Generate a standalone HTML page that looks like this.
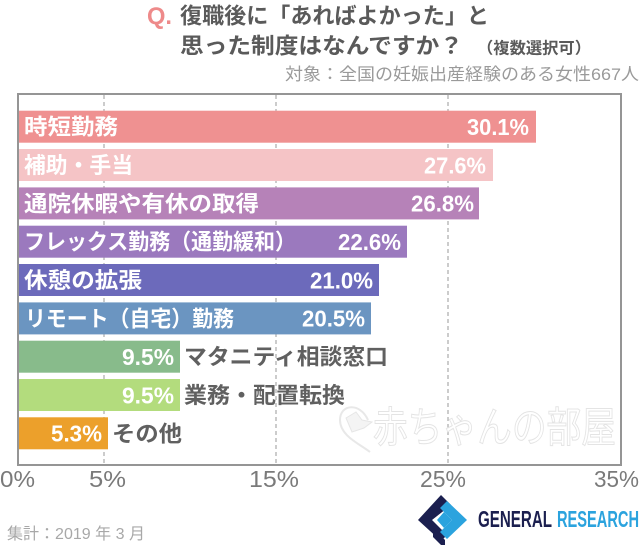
<!DOCTYPE html>
<html><head><meta charset="utf-8"><style>
html,body{margin:0;padding:0;background:#fff;}
svg{display:block;}
.cj{font-family:"Liberation Sans","Noto Sans CJK JP",sans-serif;}
.lb{font-family:"Noto Sans CJK JP","Liberation Sans",sans-serif;font-weight:bold;font-size:22px;}
.pc{font-family:"Liberation Sans",sans-serif;font-weight:bold;font-size:23px;fill:#fff;}
.ax{font-family:"Liberation Sans",sans-serif;font-size:23px;fill:#7a7a7a;}
</style></head><body>
<svg width="640" height="546" viewBox="0 0 640 546" xmlns="http://www.w3.org/2000/svg">
<rect width="640" height="546" fill="#fff"/>
<!-- Title -->
<text x="147" y="24" font-family="Liberation Sans,sans-serif" font-weight="bold" font-size="24" fill="#ee8a8a" textLength="25" lengthAdjust="spacingAndGlyphs">Q.</text>
<text x="180" y="23.5" class="cj" font-weight="bold" font-size="22" fill="#5a5a5a" textLength="309" lengthAdjust="spacingAndGlyphs">復職後に「あればよかった」と</text>
<text x="180" y="53.5" class="cj" font-weight="bold" font-size="22" fill="#5a5a5a" textLength="283" lengthAdjust="spacingAndGlyphs">思った制度はなんですか？</text>
<text x="477" y="53.5" class="cj" font-weight="bold" font-size="16" fill="#5a5a5a" textLength="114" lengthAdjust="spacingAndGlyphs">（複数選択可）</text>
<text x="285" y="80" class="cj" font-size="17" fill="#9a9a9a" textLength="354" lengthAdjust="spacingAndGlyphs">対象：全国の妊娠出産経験のある女性667人</text>

<!-- gridlines -->
<g stroke="#9a9a9a" stroke-width="1" stroke-dasharray="4,3">
<line x1="104" y1="95" x2="104" y2="464"/>
<line x1="276" y1="95" x2="276" y2="464"/>
<line x1="448" y1="95" x2="448" y2="464"/>
</g>

<!-- watermark -->
<g>
<path d="M368 420 C 360 402, 340 404, 340 420 C 340 436, 360 444, 370 452" fill="none" stroke="#e8e8e8" stroke-width="2"/>
<path d="M346 418 l10 -6 l6 8 l10 2 l-8 6 l-12 4 z" fill="#f4f4f4" stroke="#e6e6e6" stroke-width="1"/>
<text x="373" y="442" class="cj" font-size="42" fill="#fff" stroke="#e4e4e4" stroke-width="1" textLength="243" lengthAdjust="spacingAndGlyphs">赤ちゃんの部屋</text>
</g>

<!-- bars -->
<g>
<rect x="19" y="110.7" width="517" height="32" fill="#ef9191"/>
<rect x="19" y="149" width="474" height="32" fill="#f5c4c6"/>
<rect x="19" y="187.4" width="460" height="32" fill="#b682b8"/>
<rect x="19" y="225.7" width="388" height="32" fill="#9b79be"/>
<rect x="19" y="264" width="360" height="32" fill="#6c6abb"/>
<rect x="19" y="302.4" width="352" height="32" fill="#6b95c1"/>
<rect x="19" y="340.7" width="161" height="32" fill="#88bb8b"/>
<rect x="19" y="379" width="161" height="32" fill="#b3dc7d"/>
<rect x="19" y="417.3" width="89" height="32" fill="#eca02b"/>
</g>

<!-- bar labels -->
<g class="lb">
<text x="24" y="134.7" fill="#fff" textLength="94" lengthAdjust="spacingAndGlyphs">時短勤務</text>
<text x="24" y="173" fill="#fff" textLength="109" lengthAdjust="spacingAndGlyphs">補助・手当</text>
<text x="24" y="211.4" fill="#fff" textLength="235" lengthAdjust="spacingAndGlyphs">通院休暇や有休の取得</text>
<text x="24" y="249.7" fill="#fff" textLength="272" lengthAdjust="spacingAndGlyphs">フレックス勤務（通勤緩和）</text>
<text x="24" y="288" fill="#fff" textLength="118" lengthAdjust="spacingAndGlyphs">休憩の拡張</text>
<text x="25" y="326.4" fill="#fff" textLength="209" lengthAdjust="spacingAndGlyphs">リモート（自宅）勤務</text>
<text x="184" y="364.7" fill="#606060" textLength="204" lengthAdjust="spacingAndGlyphs">マタニティ相談窓口</text>
<text x="184" y="403" fill="#606060" textLength="161" lengthAdjust="spacingAndGlyphs">業務・配置転換</text>
<text x="112" y="441.3" fill="#606060" textLength="70" lengthAdjust="spacingAndGlyphs">その他</text>
</g>

<!-- percents -->
<g class="pc">
<text x="467" y="135" textLength="62" lengthAdjust="spacingAndGlyphs">30.1%</text>
<text x="424" y="173.3" textLength="62" lengthAdjust="spacingAndGlyphs">27.6%</text>
<text x="411" y="211.7" textLength="63" lengthAdjust="spacingAndGlyphs">26.8%</text>
<text x="338" y="250" textLength="63" lengthAdjust="spacingAndGlyphs">22.6%</text>
<text x="310" y="288.3" textLength="63" lengthAdjust="spacingAndGlyphs">21.0%</text>
<text x="302" y="326.7" textLength="63" lengthAdjust="spacingAndGlyphs">20.5%</text>
<text x="122" y="365" textLength="52" lengthAdjust="spacingAndGlyphs">9.5%</text>
<text x="122" y="403.3" textLength="52" lengthAdjust="spacingAndGlyphs">9.5%</text>
<text x="51" y="441.6" textLength="51" lengthAdjust="spacingAndGlyphs">5.3%</text>
</g>

<!-- frame -->
<rect x="18" y="94" width="603" height="371" fill="none" stroke="#959595" stroke-width="2"/>

<!-- axis labels -->
<g class="ax">
<text x="0" y="487" textLength="35" lengthAdjust="spacingAndGlyphs">0%</text>
<text x="89" y="487" textLength="37" lengthAdjust="spacingAndGlyphs">5%</text>
<text x="249" y="487" textLength="50" lengthAdjust="spacingAndGlyphs">15%</text>
<text x="420" y="487" textLength="46" lengthAdjust="spacingAndGlyphs">25%</text>
<text x="594" y="487" textLength="45" lengthAdjust="spacingAndGlyphs">35%</text>
</g>

<!-- footer -->
<text x="7" y="539" class="cj" font-size="16" fill="#a8a8a8" textLength="138" lengthAdjust="spacingAndGlyphs">集計：2019 年 3 月</text>

<!-- logo -->
<g>
<polygon points="418,520 441,495 451,505 432,520 447,535 441,541" fill="#1b1f4f"/>
<polygon points="433,528 445,540 445,545 441,545 433,537" fill="#1b1f4f"/>
<polygon points="447,501 467,520 447,539 440,532 452,520 440,508" fill="#2ba3de"/>
<polygon points="444,512 452,520 444,528 437,520" fill="#2ba3de"/>
<text x="478" y="527" font-family="Liberation Sans,sans-serif" font-weight="bold" font-size="23" fill="#1b1f4f" textLength="74" lengthAdjust="spacingAndGlyphs">GENERAL</text>
<text x="557" y="527" font-family="Liberation Sans,sans-serif" font-weight="bold" font-size="23" fill="#2ba3de" textLength="82" lengthAdjust="spacingAndGlyphs">RESEARCH</text>
</g>
</svg>
</body></html>
